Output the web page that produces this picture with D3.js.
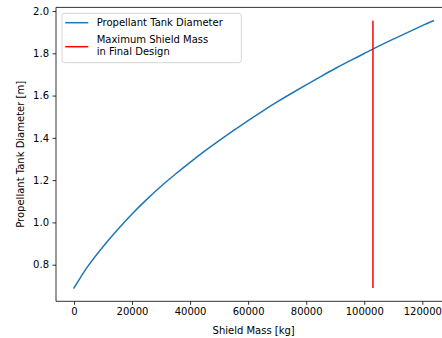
<!DOCTYPE html>
<html>
<head>
<meta charset="utf-8">
<script src="https://cdn.jsdelivr.net/npm/d3@7"></script>
<style>
  html, body { margin: 0; padding: 0; background: #fff; }
  svg { display: block; font-family: "DejaVu Sans", sans-serif; }
</style>
</head>
<body>
<svg id="chart" width="442" height="338"></svg>
<script>
// Shield mass [kg] and the resulting propellant tank diameter [m]
const shieldMass = [0, 2500, 5000, 10000, 15000, 20000, 25000, 30000, 35000, 40000, 45000,
  50000, 55000, 60000, 65000, 70000, 75000, 80000, 85000, 90000, 95000,
  100000, 105000, 110000, 115000, 120000, 123800];
const tankDiameter = [0.690, 0.745, 0.797, 0.885, 0.965, 1.040, 1.108, 1.171, 1.229, 1.284, 1.337,
  1.387, 1.435, 1.482, 1.527, 1.570, 1.611, 1.651, 1.690, 1.728, 1.764,
  1.799, 1.834, 1.867, 1.899, 1.931, 1.954];

// Mass of the shield chosen for the final design
const finalShieldMass = 103000;

const xTicks = [0, 20000, 40000, 60000, 80000, 100000, 120000];
const yTicks = [0.8, 1.0, 1.2, 1.4, 1.6, 1.8, 2.0];

const seriesLabels = ["Propellant Tank Diameter", ["Maximum Shield Mass", "in Final Design"]];
const xLabel = "Shield Mass [kg]";
const yLabel = "Propellant Tank Diameter [m]";

const svg = d3.select("#chart");
const plotLeft = 56, plotRight = 451.3, plotTop = 7.4, plotBottom = 301.3;

// Axis limits padded by 5% of the data span on each side
const xMin = d3.min(shieldMass), xMax = d3.max(shieldMass);
const yMin = d3.min(tankDiameter), yMax = d3.max(tankDiameter);
const xPad = (xMax - xMin) * 0.05, yPad = (yMax - yMin) * 0.05;

const x = d3.scaleLinear().domain([xMin - xPad, xMax + xPad]).range([plotLeft, plotRight]);
const y = d3.scaleLinear().domain([yMin - yPad, yMax + yPad]).range([plotBottom, plotTop]);

// Axes
const xAxis = svg.append("g")
  .attr("transform", `translate(0,${plotBottom})`)
  .call(d3.axisBottom(x).tickValues(xTicks).tickFormat(d3.format("d")).tickSizeOuter(0).tickSize(3.5).tickPadding(3.5));
const yAxis = svg.append("g")
  .attr("transform", `translate(${plotLeft},0)`)
  .call(d3.axisLeft(y).tickValues(yTicks).tickFormat(d3.format(".1f")).tickSizeOuter(0).tickSize(3.5).tickPadding(3.5));

[xAxis, yAxis].forEach(g => {
  g.select(".domain").remove();
  g.selectAll(".tick line").attr("stroke", "#000").attr("stroke-width", 0.8);
  g.selectAll(".tick text").attr("fill", "#000").attr("font-size", 10)
    .attr("font-family", "DejaVu Sans, sans-serif");
});

// Spines (the right side lies beyond the view)
const spines = svg.append("g").attr("stroke", "#000").attr("stroke-width", 0.8).attr("fill", "none");
spines.append("line").attr("x1", plotLeft).attr("x2", plotLeft).attr("y1", plotTop).attr("y2", plotBottom);
spines.append("line").attr("x1", plotLeft).attr("x2", plotRight).attr("y1", plotBottom).attr("y2", plotBottom);
spines.append("line").attr("x1", plotLeft).attr("x2", plotRight).attr("y1", plotTop).attr("y2", plotTop);
spines.append("line").attr("x1", plotRight).attr("x2", plotRight).attr("y1", plotTop).attr("y2", plotBottom);

// Diameter curve
const pts = shieldMass.map((m, i) => [m, tankDiameter[i]]);
svg.append("path")
  .datum(pts)
  .attr("fill", "none")
  .attr("stroke", "#1f77b4")
  .attr("stroke-width", 1.5)
  .attr("stroke-linecap", "square")
  .attr("d", d3.line().x(d => x(d[0])).y(d => y(d[1])).curve(d3.curveNatural));

// Final-design shield mass marker spanning the diameter range
svg.append("line")
  .attr("x1", x(finalShieldMass)).attr("x2", x(finalShieldMass))
  .attr("y1", y(yMin)).attr("y2", y(yMax))
  .attr("stroke", "#ff0000").attr("stroke-width", 1.5);

// Axis titles
svg.append("text")
  .attr("x", (plotLeft + plotRight) / 2).attr("y", 333.5)
  .attr("text-anchor", "middle").attr("font-size", 10).attr("fill", "#000")
  .text(xLabel);
svg.append("text")
  .attr("transform", `translate(23.5,${(plotTop + plotBottom) / 2}) rotate(-90)`)
  .attr("text-anchor", "middle").attr("font-size", 10).attr("fill", "#000")
  .text(yLabel);

// Legend
const legend = svg.append("g");
legend.append("rect")
  .attr("x", 62).attr("y", 13.3).attr("width", 179.3).attr("height", 49.4)
  .attr("rx", 2.5).attr("fill", "#fff").attr("fill-opacity", 0.8)
  .attr("stroke", "#cccccc").attr("stroke-width", 0.8);
legend.append("line").attr("x1", 65.3).attr("x2", 88.3).attr("y1", 22.7).attr("y2", 22.7)
  .attr("stroke", "#1f77b4").attr("stroke-width", 1.5);
legend.append("line").attr("x1", 65.3).attr("x2", 88.3).attr("y1", 46.7).attr("y2", 46.7)
  .attr("stroke", "#ff0000").attr("stroke-width", 1.5);
legend.append("text").attr("x", 96.7).attr("y", 26.3).attr("font-size", 10).attr("fill", "#000")
  .text(seriesLabels[0]);
const t2 = legend.append("text").attr("x", 96.7).attr("y", 43).attr("font-size", 10).attr("fill", "#000");
seriesLabels[1].forEach((s, i) => {
  t2.append("tspan").attr("x", 96.7).attr("dy", i === 0 ? 0 : 12.4).text(s);
});
</script>
</body>
</html>
